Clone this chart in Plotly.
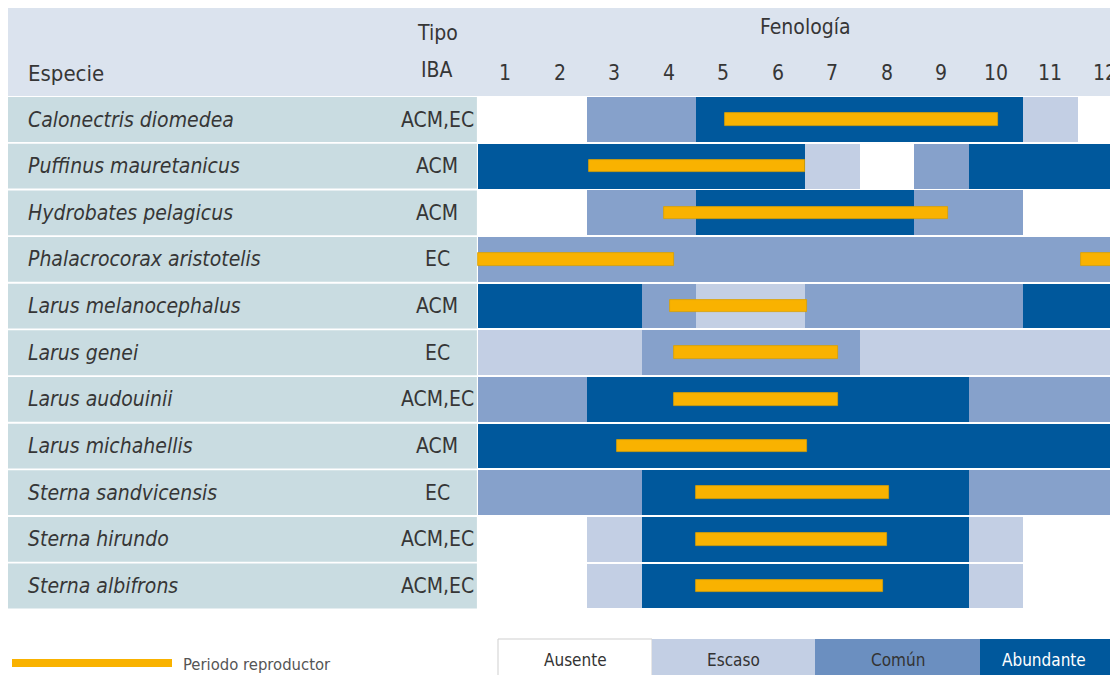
import plotly.graph_objects as go

# ---------------- data ----------------
species = ["Calonectris diomedea", "Puffinus mauretanicus", "Hydrobates pelagicus",
           "Phalacrocorax aristotelis", "Larus melanocephalus", "Larus genei",
           "Larus audouinii", "Larus michahellis", "Sterna sandvicensis",
           "Sterna hirundo", "Sterna albifrons"]
tipo_iba = ["ACM,EC", "ACM", "ACM", "EC", "ACM", "EC", "ACM,EC", "ACM", "EC", "ACM,EC", "ACM,EC"]
months = ["1", "2", "3", "4", "5", "6", "7", "8", "9", "10", "11", "12"]
# abundance per month: 0 Ausente, 1 Escaso, 2 Común, 3 Abundante
abundance = [
    [0, 0, 2, 2, 3, 3, 3, 3, 3, 3, 1, 0],
    [3, 3, 3, 3, 3, 3, 1, 0, 2, 3, 3, 3],
    [0, 0, 2, 2, 3, 3, 3, 3, 2, 2, 0, 0],
    [2, 2, 2, 2, 2, 2, 2, 2, 2, 2, 2, 2],
    [3, 3, 3, 2, 1, 1, 2, 2, 2, 2, 3, 3],
    [1, 1, 1, 2, 2, 2, 2, 1, 1, 1, 1, 1],
    [2, 2, 3, 3, 3, 3, 3, 3, 3, 2, 2, 2],
    [3, 3, 3, 3, 3, 3, 3, 3, 3, 3, 3, 3],
    [2, 2, 2, 3, 3, 3, 3, 3, 3, 2, 2, 2],
    [0, 0, 1, 3, 3, 3, 3, 3, 3, 1, 0, 0],
    [0, 0, 1, 3, 3, 3, 3, 3, 3, 1, 0, 0],
]
# breeding period (continuous month scale, 0 = start of January, 12 = end of December)
breed_start = [[4.53], [2.04], [3.41], [0.0, 11.06], [3.52], [3.6], [3.6], [2.55], [4.0], [4.0], [4.0]]
breed_end = [[9.54], [6.0], [8.62], [3.6, 12.0], [6.04], [6.6], [6.6], [6.04], [7.54], [7.5], [7.44]]
levels = ["Ausente", "Escaso", "Común", "Abundante"]
level_colors = ["#ffffff", "#c3cfe4", "#86a1cb", "#00589c"]
legend_colors = ["#ffffff", "#c3cfe4", "#6b8fc0", "#00589c"]
legend_text_colors = ["#333333", "#333333", "#333333", "#ffffff"]
breed_label = "Periodo reproductor"

# ---------------- style ----------------
FONT = "DejaVu Sans Condensed, Liberation Sans Narrow, Arial Narrow, sans-serif"
TXT = "#363636"
ORANGE = "#f9b200"
PX = 54.5          # px per month
X0 = 478           # page px of month 0
ROWPX = 46.65
ROW0 = 119.5
OFF = 8            # page body margin
W, H = 1118, 675


def xu(px):
    return (px - X0) / PX


def yu(px):
    return (px - ROW0) / ROWPX


fig = go.Figure()
shapes = []
annotations = []

# header band
shapes.append(dict(type="rect", xref="x", yref="y", x0=xu(7), x1=13, y0=yu(8), y1=yu(96),
                   fillcolor="#dbe3ee", line=dict(width=0), layer="below"))

# species column backgrounds
for i, sp in enumerate(species):
    shapes.append(dict(type="rect", xref="x", yref="y", x0=xu(7), x1=-0.02, y0=i - 0.48, y1=i + 0.48,
                       fillcolor="#c9dce1", line=dict(width=0), layer="below"))
    annotations.append(dict(x=xu(26), y=i, xref="x", yref="y", text=f"<i>{sp}</i>", showarrow=False,
                            xanchor="left", yanchor="middle", font=dict(family=FONT, size=21, color=TXT)))
    annotations.append(dict(x=xu(437), y=i, xref="x", yref="y", text=tipo_iba[i], showarrow=False,
                            xanchor="center", yanchor="middle", font=dict(family=FONT, size=21, color=TXT)))

# abundance cells (runs of equal level)
for lvl in (1, 2, 3):
    bases, lens, ys = [], [], []
    for i, row in enumerate(abundance):
        m = 0
        while m < 12:
            if row[m] == lvl:
                s = m
                while m < 12 and row[m] == lvl:
                    m += 1
                bases.append(s)
                lens.append(m - s)
                ys.append(i)
            else:
                m += 1
    fig.add_trace(go.Bar(orientation="h", base=bases, x=lens, y=ys, width=0.96,
                         marker=dict(color=level_colors[lvl], line=dict(width=0)),
                         name=levels[lvl], showlegend=False, hoverinfo="skip"))

# breeding periods
bb, bl, by = [], [], []
for i in range(len(species)):
    for s, e in zip(breed_start[i], breed_end[i]):
        bb.append(s)
        bl.append(e - s)
        by.append(i)
fig.add_trace(go.Bar(orientation="h", base=bb, x=bl, y=by, width=0.27,
                     marker=dict(color=ORANGE, line=dict(color="#d9a000", width=0.8)),
                     name=breed_label, showlegend=False, hoverinfo="skip"))

# header texts
annotations.append(dict(x=xu(26), y=yu(73), xref="x", yref="y", text="Especie", showarrow=False,
                        xanchor="left", yanchor="middle", font=dict(family=FONT, size=22, color=TXT)))
annotations.append(dict(x=xu(437), y=yu(33), xref="x", yref="y", text="Tipo", showarrow=False,
                        xanchor="center", yanchor="middle", font=dict(family=FONT, size=21, color=TXT)))
annotations.append(dict(x=xu(437), y=yu(70), xref="x", yref="y", text="IBA", showarrow=False,
                        xanchor="center", yanchor="middle", font=dict(family=FONT, size=21, color=TXT)))
annotations.append(dict(x=6.0, y=yu(27), xref="x", yref="y", text="Fenología", showarrow=False,
                        xanchor="center", yanchor="middle", font=dict(family=FONT, size=21, color=TXT)))
for k, mlab in enumerate(months):
    annotations.append(dict(x=k + 0.5, y=yu(73), xref="x", yref="y", text=mlab, showarrow=False,
                            xanchor="center", yanchor="middle", font=dict(family=FONT, size=21, color=TXT)))

# legend: breeding period
fig.add_trace(go.Bar(orientation="h", base=[xu(12)], x=[xu(172) - xu(12)], y=[yu(663)], width=8 / ROWPX,
                     marker=dict(color=ORANGE, line=dict(width=0)), showlegend=False, hoverinfo="skip"))
annotations.append(dict(x=xu(181), y=yu(664), xref="x", yref="y", text=breed_label, showarrow=False,
                        xanchor="left", yanchor="middle", font=dict(family=FONT, size=16.5, color="#555555")))

# legend: abundance levels
edges = [498, 652, 815, 980, 1140]
for k, lab in enumerate(levels):
    shapes.append(dict(type="rect", xref="x", yref="y", x0=xu(edges[k]), x1=xu(edges[k + 1]),
                       y0=yu(639), y1=yu(700), fillcolor=legend_colors[k],
                       line=dict(width=1 if k == 0 else 0, color="#cfcfcf"), layer="below"))
    cx = (xu(edges[k]) + (xu(edges[k + 1]) if k < 3 else xu(1108))) / 2
    annotations.append(dict(x=cx, y=yu(660), xref="x", yref="y", text=lab, showarrow=False,
                            xanchor="center", yanchor="middle",
                            font=dict(family=FONT, size=17, color=legend_text_colors[k])))

FIG_W, FIG_H = W - OFF, H - OFF
fig.update_layout(
    width=FIG_W, height=FIG_H, margin=dict(l=0, r=0, t=0, b=0),
    paper_bgcolor="white", plot_bgcolor="white",
    barmode="overlay", bargap=0,
    xaxis=dict(range=[xu(OFF), xu(OFF + FIG_W)], visible=False, fixedrange=True),
    yaxis=dict(range=[yu(OFF + FIG_H), yu(OFF)], visible=False, fixedrange=True),
    shapes=shapes, annotations=annotations, showlegend=False,
)

fig.write_html("out.html")
